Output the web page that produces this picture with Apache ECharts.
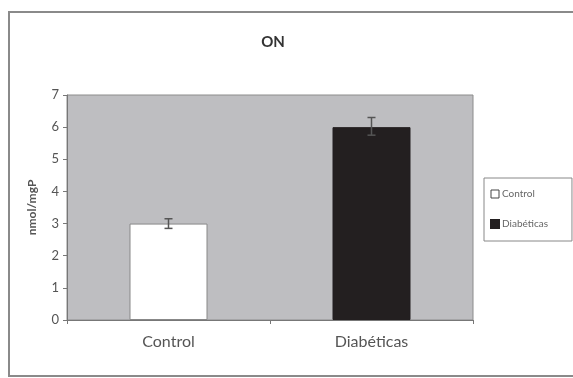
<!DOCTYPE html>
<html>
<head>
<meta charset="utf-8">
<script src="https://cdn.jsdelivr.net/npm/echarts@6/dist/echarts.min.js"></script>
<style>html,body{margin:0;padding:0;background:#fff}#c{width:573px;height:378px}</style>
</head>
<body>
<div id="c"></div>
<script>
const categories = ['Control', 'Diabéticas'];
const controlValues = [3.0, '-'];
const diabeticValues = ['-', 6.0];
const errLow = [2.85, 5.75];
const errHigh = [3.15, 6.3];
const yTicks = [0, 1, 2, 3, 4, 5, 6, 7];

const chart = echarts.init(document.getElementById('c'));
const errData = categories.map((c, i) => [i, errLow[i], errHigh[i]]);
chart.setOption({
  animation: false,
  backgroundColor: '#fff',
  title: {
    text: 'ON', left: 268, top: 30, textAlign: 'center',
    textStyle: { fontFamily: 'Lato', fontSize: 15, fontWeight: 'bold', color: '#333' }
  },
  graphic: [{
    type: 'rect', shape: { x: 9, y: 12, width: 580, height: 364 },
    style: { fill: 'none', stroke: '#8a8a8a', lineWidth: 2 }, silent: true
  }],
  legend: {
    orient: 'vertical', left: 484, top: 178, itemGap: 20,
    itemWidth: 8, itemHeight: 8, padding: [11, 24, 12, 6],
    borderColor: '#888', borderWidth: 1,
    data: [
      { name: 'Control', icon: 'rect', itemStyle: { color: '#fff', borderColor: '#444', borderWidth: 1 } },
      { name: 'Diabéticas', icon: 'rect' }
    ],
    textStyle: { fontFamily: 'Lato', fontSize: 10, color: '#666', padding: [0, 0, 0, -2] }
  },
  grid: { left: 67, right: 100, top: 95, bottom: 58, show: true, backgroundColor: '#bebec1', borderColor: '#8c8c8c', borderWidth: 1 },
  xAxis: {
    type: 'category', data: categories,
    axisLine: { lineStyle: { color: '#777' } },
    axisTick: { show: true, length: 4, lineStyle: { color: '#777' } },
    axisLabel: { fontFamily: 'Lato', fontSize: 16, color: '#555', margin: 14 }
  },
  yAxis: {
    type: 'value', min: 0, max: 7, interval: 1,
    name: 'nmol/mgP', nameLocation: 'middle', nameGap: 29, nameRotate: 90,
    nameTextStyle: { fontFamily: 'Lato', fontSize: 12, fontWeight: 'bold', color: '#555' },
    axisLine: { show: true, lineStyle: { color: '#777' } },
    axisTick: { show: true, length: 4, lineStyle: { color: '#777' } },
    splitLine: { show: false },
    axisLabel: { fontFamily: 'Lato', fontSize: 13, color: '#555', margin: 8,
      formatter: v => yTicks.includes(v) ? String(v) : '' }
  },
  series: [
    { name: 'Control', type: 'bar', data: controlValues, barWidth: 78, barGap: '-100%',
      itemStyle: { color: '#fff', borderColor: '#888', borderWidth: 1 } },
    { name: 'Diabéticas', type: 'bar', data: diabeticValues, barWidth: 78,
      itemStyle: { color: '#231f20', borderColor: '#231f20', borderWidth: 1 } },
    { type: 'custom', data: errData, z: 10,
      renderItem: function (params, api) {
        const x = api.value(0);
        const lo = api.coord([x, api.value(1)]);
        const hi = api.coord([x, api.value(2)]);
        const w = 4;
        const st = { stroke: '#555', lineWidth: 1.5 };
        return { type: 'group', children: [
          { type: 'line', shape: { x1: lo[0], y1: lo[1], x2: hi[0], y2: hi[1] }, style: st },
          { type: 'line', shape: { x1: hi[0] - w, y1: hi[1], x2: hi[0] + w, y2: hi[1] }, style: st },
          { type: 'line', shape: { x1: lo[0] - w, y1: lo[1], x2: lo[0] + w, y2: lo[1] }, style: st }
        ] };
      }
    }
  ]
});
</script>
</body>
</html>
